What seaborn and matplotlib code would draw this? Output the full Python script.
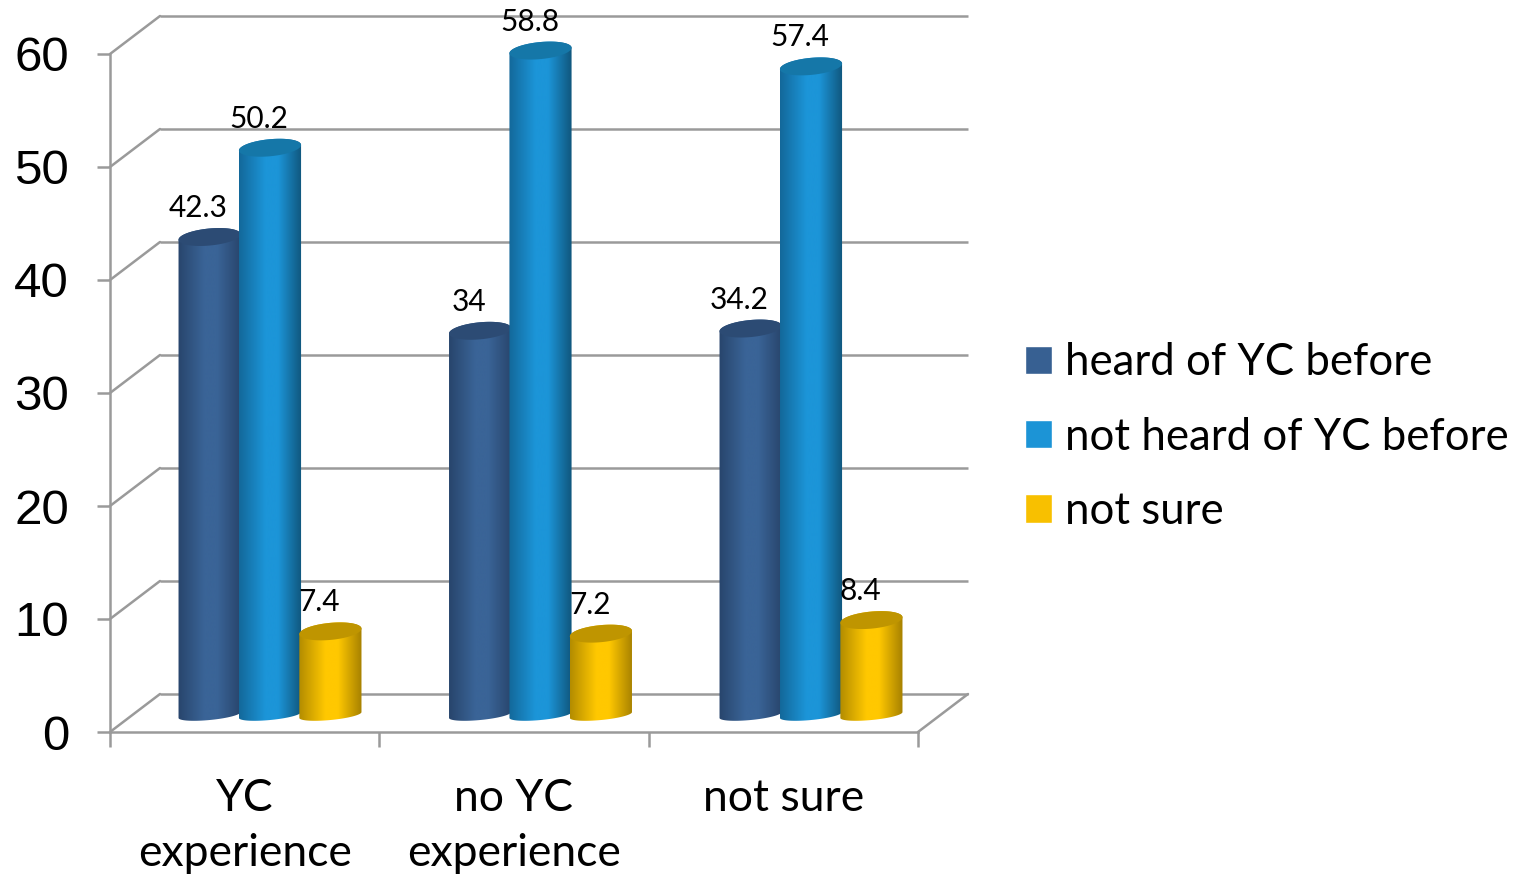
# -*- coding: utf-8 -*-
import numpy as np
import pandas as pd
import matplotlib
matplotlib.use("Agg")
import matplotlib.pyplot as plt
import seaborn as sns
from matplotlib.colors import LinearSegmentedColormap
from matplotlib.patches import Polygon
from matplotlib.transforms import ScaledTranslation

# ==================== data ====================
categories = ["YC\nexperience", "no YC\nexperience", "not sure"]
series_names = ["heard of YC before", "not heard of YC before", "not sure"]
heard = [42.3, 34, 34.2]
not_heard = [50.2, 58.8, 57.4]
not_sure = [7.4, 7.2, 8.4]
y_ticks = [0, 10, 20, 30, 40, 50, 60]

legend_colors = ["#376092", "#1c94d6", "#f8c000"]
gradients = [
    ["#28456c", "#3a6497", "#3a6497", "#28456c"],
    ["#13689a", "#1c95d8", "#1c95d8", "#10567c"],
    ["#b38c00", "#ffc800", "#ffc800", "#a68000"],
]
top_colors = ["#2c4b74", "#1577a8", "#bf9500"]
GREY = "#9a9a9a"

# ==================== layout ====================
W, H, DPI = 1521, 875, 100
X0, X1, Y0, Y60 = 110, 918, 732, 54   # front frame, pixels
BAR_X0, BAR_W, BAR_DY = 134.75, 811.5, 17  # bars sit half way into the depth
BACK_DX, BACK_DY = 50, 38             # back wall offset

sns.set_style("white")
plt.rcParams["font.family"] = ["Lato", "DejaVu Sans"]

df = pd.DataFrame({
    "category": categories * 3,
    "series": np.repeat(series_names, 3),
    "value": heard + not_heard + not_sure,
})

fig = plt.figure(figsize=(W / DPI, H / DPI), dpi=DPI)

ax = fig.add_axes([X0 / W, (H - Y0) / H, (X1 - X0) / W, (Y0 - Y60) / H])
bar_ax = fig.add_axes([BAR_X0 / W, (H - Y0 + BAR_DY) / H, BAR_W / W, (Y0 - Y60) / H])
bar_ax.patch.set_alpha(0)

# ==================== bars ====================
sns.barplot(data=df, x="category", y="value", hue="series", hue_order=series_names,
            palette=legend_colors, width=0.67, gap=0, ax=bar_ax, saturation=1)
XLIM, YLIM = (-0.5, 2.5), (0, 60)
bar_ax.set_xlim(XLIM)
bar_ax.set_ylim(YLIM)
bar_ax.axis("off")

# pixels to data units
PX = (XLIM[1] - XLIM[0]) / BAR_W
PY = (YLIM[1] - YLIM[0]) / (Y0 - Y60)
TILT = np.radians(5.5)


def ellipse(cx, cy, a_px, b_px, t):
    ex = a_px * np.cos(t) * np.cos(TILT) - b_px * np.sin(t) * np.sin(TILT)
    ey = a_px * np.cos(t) * np.sin(TILT) + b_px * np.sin(t) * np.cos(TILT)
    return np.c_[cx + ex * PX, cy + ey * PY]


for i, container in enumerate(bar_ax.containers):
    cmap = LinearSegmentedColormap.from_list(f"cyl{i}", list(zip([0, 0.42, 0.62, 1], gradients[i])))
    for bar in container:
        bar.set_visible(False)
        left, w, h = bar.get_x(), bar.get_width(), bar.get_height()
        cx = left + w / 2
        a_px = w / PX / 2 + 1
        lower = ellipse(cx, 0, a_px, 5, np.linspace(np.pi, 2 * np.pi, 60))
        upper = ellipse(cx, h, a_px, 8.5, np.linspace(0, np.pi, 60))
        z = 3 + i
        body = Polygon(np.vstack([lower, upper]), transform=bar_ax.transData, fc="none", ec="none")
        bar_ax.add_patch(body)
        body.set_clip_on(False)
        grad = np.linspace(0, 1, 256)[None, :]
        im = bar_ax.imshow(grad, extent=(cx - a_px * PX, cx + a_px * PX, -2, h + 2),
                           cmap=cmap, aspect="auto", zorder=z, interpolation="bilinear")
        im.set_clip_box(fig.bbox)
        im.set_clip_path(body)
        top = ellipse(cx, h, a_px, 8.5, np.linspace(0, 2 * np.pi, 120))
        bar_ax.add_patch(Polygon(top, fc=top_colors[i], ec="none", zorder=z + 0.5, clip_on=False))
        bar_ax.annotate(f"{h:g}", xy=(cx, h), xytext=(-11, 29), textcoords="offset pixels",
                        ha="center", va="center", fontsize=21.5, color="black", zorder=10,
                        annotation_clip=False)
bar_ax.set_xlim(XLIM)
bar_ax.set_ylim(YLIM)

# ==================== frame ====================
ax.set_xlim(XLIM)
ax.set_ylim(YLIM)
sns.despine(ax=ax, top=True, right=True)
for side in ("left", "bottom"):
    ax.spines[side].set_color(GREY)
    ax.spines[side].set_linewidth(1.8)

back = ax.transData + ScaledTranslation(BACK_DX / DPI, BACK_DY / DPI, fig.dpi_scale_trans)
ax.hlines(y_ticks, XLIM[0], XLIM[1], colors=GREY, lw=1.8, transform=back, clip_on=False)
arrow = dict(arrowstyle="-", color=GREY, lw=1.8, shrinkA=0, shrinkB=0)
for v in y_ticks:
    ax.annotate("", xy=(XLIM[0], v), xytext=(BACK_DX, BACK_DY),
                textcoords="offset pixels", arrowprops=arrow, annotation_clip=False)
ax.annotate("", xy=(XLIM[1], 0), xytext=(BACK_DX, BACK_DY),
            textcoords="offset pixels", arrowprops=arrow, annotation_clip=False)

ax.set_yticks(y_ticks)
ax.set_yticklabels(y_ticks, family="Liberation Sans", fontsize=35.5)
ax.set_xticks([-0.5, 0.5, 1.5, 2.5])
ax.set_xticklabels([])
ax.set_xticks([0, 1, 2], labels=categories, minor=True)
ax.tick_params(axis="y", length=9.5, width=1.8, color=GREY, pad=20, left=True, labelcolor="black")
ax.tick_params(axis="x", which="major", length=11, width=1.8, color=GREY, bottom=True)
ax.tick_params(axis="x", which="minor", length=0, pad=33, labelsize=32, labelcolor="black")
for lab in ax.get_xticklabels(minor=True):
    lab.set_linespacing(1.42)
ax.set_xlabel("")
ax.set_ylabel("")

# ==================== legend ====================
sns.move_legend(bar_ax, loc="center left", bbox_to_anchor=(1025 / W, (H - 437) / H),
                bbox_transform=fig.transFigure, title=None, frameon=False, fontsize=31.5,
                handlelength=0.62, handleheight=0.62, handletextpad=0.3, labelspacing=0.76,
                labelcolor="black", borderpad=0, borderaxespad=0)

fig.savefig("out.png", dpi=DPI)
